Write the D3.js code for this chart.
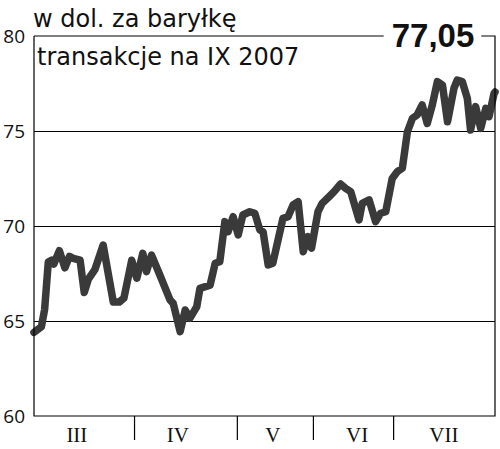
<!DOCTYPE html>
<html>
<head>
<meta charset="utf-8">
<script src="https://cdn.jsdelivr.net/npm/d3@7"></script>
<style>
  body { margin: 0; background: #fff; }
</style>
</head>
<body>
<div id="chart"></div>
<script>
// trading session number (0..100) and price in USD per barrel
const days = [0, 1.6, 2.3, 3.1, 3.8, 4.3, 5.5, 6.7, 7.7, 8.5, 10.0, 10.9, 11.8, 13.2, 15.0,
  17.2, 18.5, 19.5, 21.2, 22.3, 23.6, 24.4, 25.5, 27.3, 29.5, 30.2, 31.7, 32.8, 33.8, 35.3,
  36.0, 38.2, 39.3, 40.3, 41.4, 42.1, 43.2, 44.3, 45.3, 46.8, 47.9, 49.0, 49.7, 50.8, 51.8,
  54.0, 55.1, 56.2, 57.3, 58.4, 59.4, 60.2, 61.6, 62.5, 64.0, 65.1, 66.5, 67.6, 68.7, 70.5,
  71.2, 72.7, 74.1, 75.2, 76.3, 77.7, 78.8, 79.9, 81.0, 82.1, 83.1, 84.2, 85.3, 86.4, 87.5,
  88.6, 89.7, 91.1, 91.8, 92.9, 94.0, 94.7, 95.8, 96.9, 98.0, 98.7, 99.8, 100];
const prices = [64.4, 64.7, 65.6, 68.1, 68.2, 68.0, 68.7, 67.8, 68.4, 68.3, 68.2, 66.5, 67.2, 67.7, 69.0,
  66.0, 66.0, 66.2, 68.2, 67.25, 68.56, 67.6, 68.47, 67.42, 66.11, 65.93, 64.44, 65.58, 65.14, 65.75,
  66.72, 66.89, 68.04, 68.12, 70.23, 69.7, 70.49, 69.53, 70.58, 70.75, 70.67, 69.79, 69.7, 67.95, 68.04,
  70.4, 70.49, 71.11, 71.28, 68.65, 69.44, 68.83, 70.75, 71.19, 71.54, 71.81, 72.21, 71.98, 71.81, 70.32,
  71.19, 71.37, 70.23, 70.67, 70.75, 72.5, 72.86, 73.04, 74.96, 75.67, 75.84, 76.37, 75.4, 76.37, 77.6,
  77.42, 75.49, 77.25, 77.68, 77.6, 76.72, 75.05, 76.28, 75.14, 76.19, 75.75, 76.98, 77.05];

const monthNames = ['III', 'IV', 'V', 'VI', 'VII'];
const monthStarts = [21.7, 44.0, 60.5, 77.9];      // boundaries between months
const monthLabelAt = [9.3, 31.2, 51.8, 70.1, 88.9];
const yTicks = [60, 65, 70, 75, 80];
const gridTicks = [65, 70, 75];
const lastPrice = '77,05';

const width = 500, height = 449;
const margin = {top: 36, right: 5, bottom: 33, left: 34};

const svg = d3.select('#chart')
    .append('svg')
    .attr('width', width)
    .attr('height', height)
    .style('background-color', '#fff');

const x = d3.scaleLinear()
    .domain([0, 100])
    .range([margin.left, width - margin.right]);
const y = d3.scaleLinear()
    .domain([60, 80])
    .range([height - margin.bottom, margin.top]);

// horizontal grid
svg.append('g')
    .attr('transform', `translate(${margin.left}, 0)`)
    .call(d3.axisLeft(y).tickValues(gridTicks).tickSize(-(x.range()[1] - x.range()[0])).tickFormat(''))
    .call(g => g.select('.domain').remove())
    .selectAll('line').attr('stroke', '#000').attr('stroke-width', 1.2);

// y labels
svg.append('g')
    .attr('transform', `translate(${margin.left}, 0)`)
    .call(d3.axisLeft(y).tickValues(yTicks).tickSize(0).tickPadding(9))
    .call(g => g.select('.domain').remove())
    .selectAll('text')
        .attr('font-family', '"Open Sans", sans-serif')
        .attr('font-size', 19)
        .attr('fill', '#111');

// month ticks under the axis
svg.append('g')
    .attr('transform', `translate(0, ${y(60)})`)
    .call(d3.axisBottom(x).tickValues(monthStarts).tickSize(24).tickFormat(''))
    .call(g => g.select('.domain').remove())
    .selectAll('line').attr('stroke', '#000').attr('stroke-width', 1.2);

svg.append('g').selectAll('text')
    .data(monthNames)
    .enter()
    .append('text')
    .attr('x', (d, i) => x(monthLabelAt[i]))
    .attr('y', y(60) + 26)
    .attr('text-anchor', 'middle')
    .attr('font-family', '"Liberation Serif", serif')
    .attr('font-size', 21)
    .attr('fill', '#111')
    .text(d => d);

// price line
const line = d3.line()
    .x((d, i) => x(days[i]))
    .y(d => y(d));
svg.append('path')
    .datum(prices)
    .attr('fill', 'none')
    .attr('stroke', '#3a3a3a')
    .attr('stroke-width', 7.5)
    .attr('stroke-linejoin', 'round')
    .attr('stroke-linecap', 'round')
    .attr('d', line);

// last value label on the top border
const label = svg.append('text')
    .attr('x', 433)
    .attr('y', y(80) + 11)
    .attr('text-anchor', 'middle')
    .attr('font-family', '"Liberation Sans", Arial, sans-serif')
    .attr('font-weight', 'bold')
    .attr('font-size', 33)
    .attr('fill', '#111')
    .text(lastPrice);
const bb = label.node().getBBox();

// frame: left, bottom, right and top with a gap for the label
const [x0, x1] = x.range();
const frame = svg.append('g')
    .attr('stroke', '#000')
    .attr('stroke-width', 1.2)
    .attr('fill', 'none');
frame.append('path').attr('d', `M${x0},${y(80)}V${y(60)}H${x1}V${y(80)}H${bb.x + bb.width + 7}`);
frame.append('path').attr('d', `M${x0},${y(80)}H${bb.x - 8}`);

// titles
svg.append('text')
    .attr('x', 33)
    .attr('y', 27)
    .attr('font-family', '"DejaVu Sans", sans-serif')
    .attr('font-size', 24)
    .attr('fill', '#111')
    .text('w dol. za baryłkę');
svg.append('text')
    .attr('x', 37)
    .attr('y', 65)
    .attr('font-family', '"DejaVu Sans", sans-serif')
    .attr('font-size', 24)
    .attr('fill', '#111')
    .text('transakcje na IX 2007');
</script>
</body>
</html>
